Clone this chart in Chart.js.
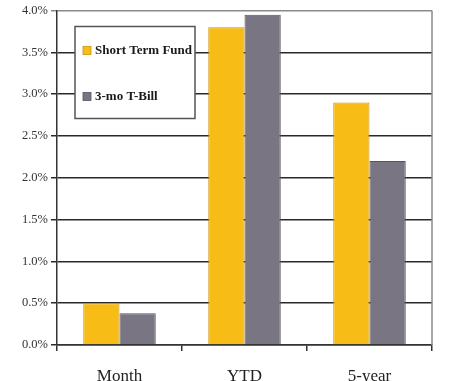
<!DOCTYPE html>
<html>
<head>
<meta charset="utf-8">
<script src="https://cdn.jsdelivr.net/npm/chart.js@4.4.1/dist/chart.umd.min.js"></script>
<style>
  html, body { margin: 0; padding: 0; background: #ffffff; }
  #wrap { width: 458px; height: 381px; position: relative; }
</style>
</head>
<body>
<div id="wrap"><canvas id="c" width="458" height="381"></canvas></div>
<script>
// Returns by period (percent)
const periods = ['Month', 'YTD', '5-year'];
const shortTermFund = [0.50, 3.80, 2.90];
const tBill3mo = [0.38, 3.95, 2.20];
const seriesNames = ['Short Term Fund', '3-mo T-Bill'];
const yTicks = [0, 0.5, 1.0, 1.5, 2.0, 2.5, 3.0, 3.5, 4.0];

const SERIF = '"Liberation Serif", "DejaVu Serif", serif';

// Boxed legend drawn inside the plot area, plus the right-hand frame line
const boxLegend = {
  id: 'boxLegend',
  afterDraw(chart) {
    const ctx = chart.ctx;
    const area = chart.chartArea;
    ctx.save();
    // right frame
    ctx.strokeStyle = '#8a8a8e';
    ctx.lineWidth = 1.5;
    ctx.beginPath();
    ctx.moveTo(area.right, area.top);
    ctx.lineTo(area.right, area.bottom);
    ctx.stroke();

    const bx = area.left + 18, by = area.top + 16, bw = 120, bh = 92;
    ctx.fillStyle = '#ffffff';
    ctx.fillRect(bx, by, bw, bh);
    ctx.strokeStyle = '#555555';
    ctx.lineWidth = 1.5;
    ctx.strokeRect(bx, by, bw, bh);

    const rows = [by + 24, by + 70];
    chart.data.datasets.forEach((ds, i) => {
      const y = rows[i];
      ctx.fillStyle = ds.backgroundColor;
      ctx.fillRect(bx + 8, y - 4, 8, 8);
      ctx.strokeStyle = ds.borderColor;
      ctx.lineWidth = 0.8;
      ctx.strokeRect(bx + 8, y - 4, 8, 8);
      ctx.fillStyle = '#1a1a1a';
      ctx.font = 'bold 13px ' + SERIF;
      ctx.textBaseline = 'middle';
      ctx.textAlign = 'left';
      ctx.fillText(ds.label, bx + 20, y + 0.5);
    });
    ctx.restore();
  }
};

new Chart(document.getElementById('c'), {
  type: 'bar',
  data: {
    labels: periods,
    datasets: [
      {
        label: seriesNames[0],
        data: shortTermFund,
        backgroundColor: '#F8BC16',
        borderColor: '#C9930E',
        borderWidth: 1
      },
      {
        label: seriesNames[1],
        data: tBill3mo,
        backgroundColor: '#7A7582',
        borderColor: '#57535F',
        borderWidth: 1
      }
    ]
  },
  options: {
    responsive: false,
    animation: false,
    devicePixelRatio: 1,
    layout: { padding: { top: 9, right: 26, bottom: 0, left: 0 } },
    plugins: {
      legend: { display: false },
      tooltip: { enabled: false }
    },
    datasets: {
      bar: { categoryPercentage: 0.58, barPercentage: 1.0 }
    },
    scales: {
      x: {
        afterFit(scale) { scale.height = 36; },
        grid: {
          display: true,
          drawOnChartArea: false,
          drawTicks: true,
          tickLength: 6,
          color: '#333333',
          lineWidth: 1.5
        },
        border: { display: true, color: '#333333', width: 1.5 },
        ticks: {
          color: '#222222',
          font: { family: SERIF, size: 17 },
          padding: 15
        }
      },
      y: {
        min: 0,
        max: 4.0,
        afterFit(scale) { scale.width = 57; },
        afterBuildTicks(scale) {
          scale.ticks = yTicks.map(v => ({ value: v }));
        },
        grid: {
          color: (c) => c.tick && c.tick.value === 4.0 ? '#8a8a8e' : '#2a2a2a',
          lineWidth: 1.5,
          drawTicks: true,
          tickLength: 6
        },
        border: { display: true, color: '#333333', width: 1.5 },
        ticks: {
          color: '#333333',
          font: { family: SERIF, size: 12.5 },
          padding: 3,
          callback: (v) => Number(v).toFixed(1) + '%'
        }
      }
    }
  },
  plugins: [boxLegend]
});
</script>
</body>
</html>
